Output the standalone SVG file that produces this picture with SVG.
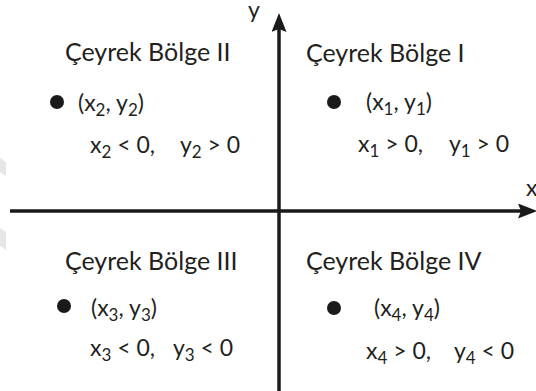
<svg xmlns="http://www.w3.org/2000/svg" width="536" height="391" viewBox="0 0 536 391">
<defs>
<style>
text{font-family:"Lato","Open Sans","Liberation Sans",sans-serif;fill:#231f20;white-space:pre;}
.t{font-size:25px;}
.m{font-size:23px;}
.s{font-size:17px;}
.dot{fill:#1a1a1a;}
.ax{stroke:#1a1a1a;stroke-width:3.5;fill:none;}
</style>
<marker id="ah" viewBox="0 0 19 15" refX="12" refY="7.5" markerWidth="19" markerHeight="15" markerUnits="userSpaceOnUse" orient="auto">
<path d="M0,0 L19,7.5 L0,15 L3,7.5 Z" fill="#1a1a1a"/>
</marker>
</defs>
<rect width="536" height="391" fill="#ffffff"/>
<polygon points="0,158 6,162 6,176 0,172" fill="#e6e6e6"/>
<polygon points="0,228 6,232 6,250 0,246" fill="#e6e6e6"/>
<g id="connectors">
<line class="ax" x1="10" y1="211" x2="530" y2="211" marker-end="url(#ah)"/>
<line class="ax" x1="279" y1="391" x2="279" y2="20" marker-end="url(#ah)"/>
</g>
<g id="axis-labels">
<text class="m" x="248" y="18">y</text>
<text class="m" x="526" y="196">x</text>
</g>
<g id="q2">
<text class="t" x="65" y="61">Çeyrek Bölge II</text>
<circle class="dot" cx="57" cy="102" r="7"/>
<text class="m" x="78" y="111">(x<tspan class="s" dy="5">2</tspan><tspan dy="-5">, y</tspan><tspan class="s" dy="5">2</tspan><tspan dy="-5">)</tspan></text>
<text class="m" x="90" y="153">x<tspan class="s" dy="5">2</tspan><tspan dy="-5"> &lt; 0,</tspan></text>
<text class="m" x="180" y="153">y<tspan class="s" dy="5">2</tspan><tspan dy="-5"> &gt; 0</tspan></text>
</g>
<g id="q1">
<text class="t" x="306" y="62">Çeyrek Bölge I</text>
<circle class="dot" cx="334" cy="102" r="7"/>
<text class="m" x="366" y="110">(x<tspan class="s" dy="5">1</tspan><tspan dy="-5">, y</tspan><tspan class="s" dy="5">1</tspan><tspan dy="-5">)</tspan></text>
<text class="m" x="358" y="152">x<tspan class="s" dy="5">1</tspan><tspan dy="-5"> &gt; 0,</tspan></text>
<text class="m" x="449" y="152">y<tspan class="s" dy="5">1</tspan><tspan dy="-5"> &gt; 0</tspan></text>
</g>
<g id="q3">
<text class="t" x="65" y="270">Çeyrek Bölge III</text>
<circle class="dot" cx="64" cy="306" r="7"/>
<text class="m" x="91" y="316">(x<tspan class="s" dy="5">3</tspan><tspan dy="-5">, y</tspan><tspan class="s" dy="5">3</tspan><tspan dy="-5">)</tspan></text>
<text class="m" x="90" y="356">x<tspan class="s" dy="5">3</tspan><tspan dy="-5"> &lt; 0,</tspan></text>
<text class="m" x="173" y="356">y<tspan class="s" dy="5">3</tspan><tspan dy="-5"> &lt; 0</tspan></text>
</g>
<g id="q4">
<text class="t" x="306" y="270">Çeyrek Bölge IV</text>
<circle class="dot" cx="334" cy="308" r="7"/>
<text class="m" x="374" y="316">(x<tspan class="s" dy="5">4</tspan><tspan dy="-5">, y</tspan><tspan class="s" dy="5">4</tspan><tspan dy="-5">)</tspan></text>
<text class="m" x="366" y="359">x<tspan class="s" dy="5">4</tspan><tspan dy="-5"> &gt; 0,</tspan></text>
<text class="m" x="454" y="359">y<tspan class="s" dy="5">4</tspan><tspan dy="-5"> &lt; 0</tspan></text>
</g>
</svg>
